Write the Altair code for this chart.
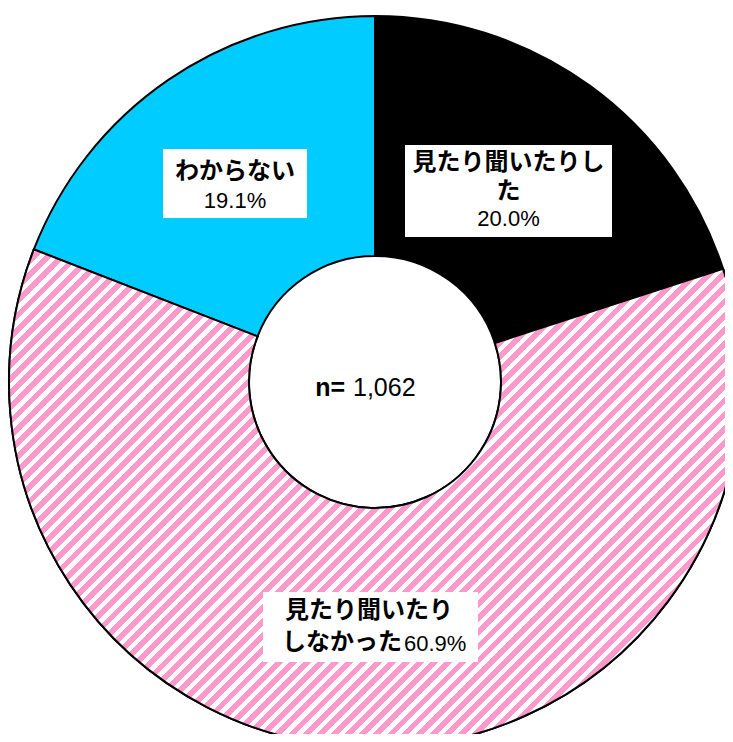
import math
import altair as alt
import pandas as pd

# ---- data ----
categories = ["見たり聞いたりした", "見たり聞いたりしなかった", "わからない"]
percents = [20.0, 60.9, 19.1]
label_lines = [["見たり聞いたりし", "た"], ["見たり聞いたり", "しなかった"], ["わからない"]]
n_total = 1062

colors = ["#000000", "#ffffff", "#00ccff"]
PINK = "#ff99cc"

df = pd.DataFrame({"category": categories, "percent": percents, "order": list(range(len(categories)))})

# ---- geometry (plot coords) ----
W_CH, H_CH = 717, 726
CX, CY = 367, 374
R_OUT, R_IN = 366, 126

# ---- hatch gradient for the pink slice ----
tot = sum(percents)
a0 = 2 * math.pi * percents[0] / tot
a1 = 2 * math.pi * (percents[0] + percents[1]) / tot
pts = []
for i in range(721):
    a = a0 + (a1 - a0) * i / 720
    for rr in (R_OUT, R_IN):
        pts.append((CX + rr * math.sin(a), CY - rr * math.cos(a)))
xs = [p[0] for p in pts]
ys = [p[1] for p in pts]
bw = max(xs) - min(xs)
bh = max(ys) - min(ys)
L = (bw ** 2 + bh ** 2) / (math.sqrt(2) * bw)  # px per unit t, perpendicular
period = 10.0
dt = period / L
stops = []
i = 0
while i * dt < 1:
    o0 = i * dt
    om = min(1.0, o0 + dt * 0.55)
    o1 = min(1.0, o0 + dt)
    stops += [
        alt.GradientStop(color=PINK, offset=round(o0, 6)),
        alt.GradientStop(color=PINK, offset=round(om, 6)),
        alt.GradientStop(color="#ffffff", offset=round(om, 6)),
        alt.GradientStop(color="#ffffff", offset=round(o1, 6)),
    ]
    i += 1
hatch = alt.LinearGradient(gradient="linear", stops=stops, x1=0, y1=0, x2=1, y2=round(bh / bw, 6))

base = (
    alt.Chart(df)
    .transform_window(cum="sum(percent)", sort=[alt.SortField("order")])
    .transform_calculate(start="datum.cum - datum.percent")
)
theta = alt.Theta("start:Q", scale=alt.Scale(domain=[0, 100]))
theta2 = alt.Theta2("cum:Q")

solid = base.mark_arc(radius=R_OUT, radius2=R_IN, stroke="black", strokeWidth=2).encode(
    theta=theta,
    theta2=theta2,
    x=alt.value(CX),
    y=alt.value(CY),
    color=alt.Color("category:N", scale=alt.Scale(domain=categories, range=colors), legend=None),
)

pink = (
    base.transform_filter(alt.datum.category == categories[1])
    .mark_arc(radius=R_OUT, radius2=R_IN, stroke="black", strokeWidth=2, fill=hatch)
    .encode(theta=theta, theta2=theta2, x=alt.value(CX), y=alt.value(CY))
)

JP = "Noto Sans CJK JP"
NUM = "Liberation Sans"


def box(x0, x1, y0, y1):
    return alt.Chart(df).transform_filter(alt.datum.order == 0).mark_rect(fill="white").encode(
        x=alt.value(x0), x2=alt.value(x1), y=alt.value(y0), y2=alt.value(y1)
    )


def txt(t, x, y, size=24, bold=True, font=JP, align="center"):
    return alt.Chart(df).transform_filter(alt.datum.order == 0).mark_text(
        text=t, font=font, fontSize=size, fontWeight="bold" if bold else "normal",
        align=align, baseline="middle", color="black"
    ).encode(x=alt.value(x), y=alt.value(y))


def pct(v):
    return f"{v:.1f}%"


layers = [solid, pink]
# black slice label
layers += [
    box(397, 604, 137, 229),
    txt(label_lines[0][0], 500.5, 155),
    txt(label_lines[0][1], 500.5, 184),
    txt(pct(percents[0]), 500.5, 211, size=22, bold=False, font=NUM),
]
# cyan slice label
layers += [
    box(155, 299, 141, 210),
    txt(label_lines[2][0], 227, 164),
    txt(pct(percents[2]), 227, 193, size=22, bold=False, font=NUM),
]
# pink slice label
layers += [
    box(255, 470, 584, 654),
    txt(label_lines[1][0], 361, 603),
    txt(label_lines[1][1], 394, 635, align="right"),
    txt(pct(percents[1]), 396, 636, size=22, bold=False, font=NUM, align="left"),
]
# centre
layers += [
    txt("n=", 337, 380, size=25, bold=True, font=NUM, align="right"),
    txt(f"{n_total:,}", 345, 380, size=25, bold=False, font=NUM, align="left"),
]

chart = (
    alt.layer(*layers)
    .properties(
        width=W_CH, height=H_CH, padding=0,
        autosize=alt.AutoSizeParams(type="none"),
        view=alt.ViewBackground(stroke="transparent", strokeWidth=0),
    )
    .configure_view(stroke="transparent", strokeWidth=0)
    .configure(background="white")
)

chart.save("out.html", embed_options={"renderer": "svg", "actions": False})
